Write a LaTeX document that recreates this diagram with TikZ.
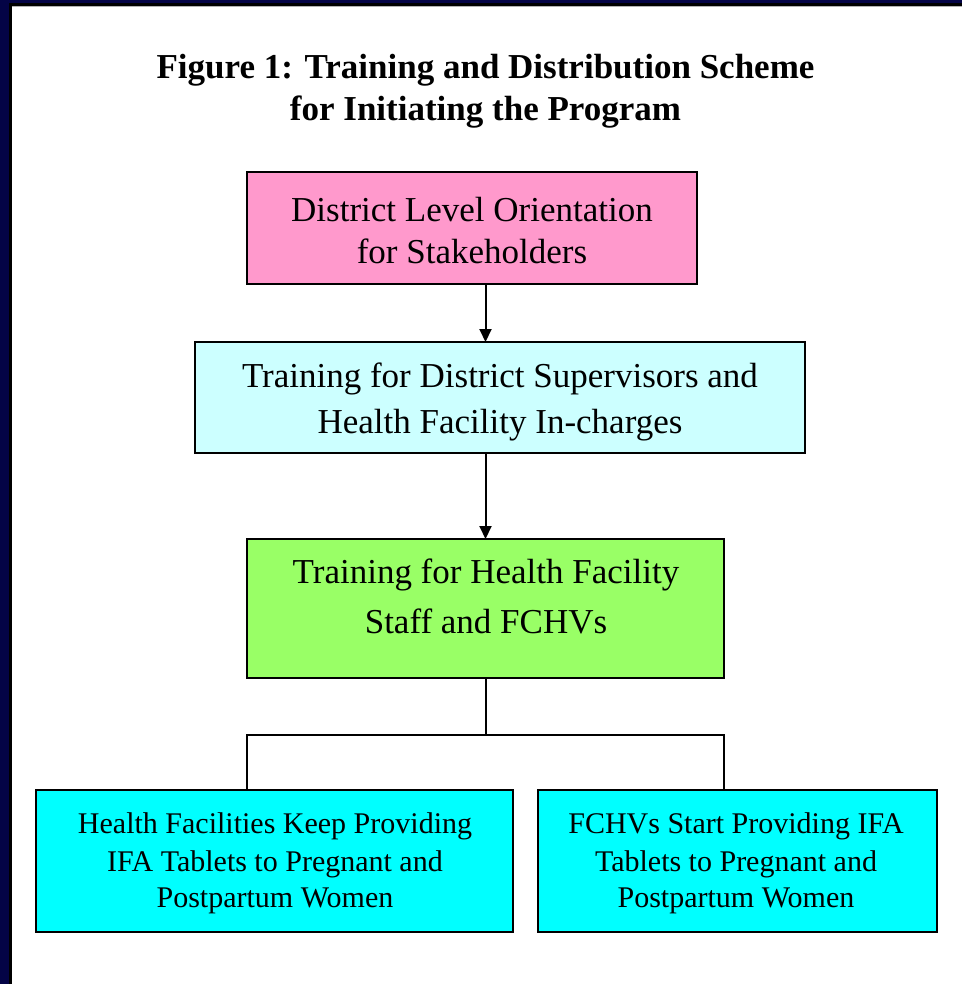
\documentclass[tikz,border=0pt]{standalone}
\usepackage{fontspec}
\setmainfont{Liberation Serif}
\usetikzlibrary{arrows.meta,calc}
\definecolor{pinkbox}{HTML}{FF99CC}
\definecolor{lightcyanbox}{HTML}{CCFFFF}
\definecolor{greenbox}{HTML}{99FF66}
\definecolor{cyanbox}{HTML}{00FFFF}
\definecolor{navyframe}{RGB}{4,4,70}
\begin{document}
\begin{tikzpicture}[x=1pt,y=-1pt,
  box/.style={draw=black, line width=2pt, inner sep=0pt, outer sep=0pt},
  ttl/.style={anchor=base, inner sep=0pt, font=\fontsize{35}{40}\selectfont\bfseries},
  tl/.style={anchor=base, inner sep=0pt, font=\fontsize{35}{40}\selectfont},
  ts/.style={anchor=base, inner sep=0pt, font=\fontsize{30}{36}\selectfont},
  conn/.style={draw=black, line width=2pt},
  arr/.style={conn, -{Triangle[length=13pt,width=12pt]}}]
\useasboundingbox (0,0) rectangle (962,984);
\fill[white] (0,0) rectangle (962,984);
% frame
\fill[navyframe] (0,0) rectangle (9,984);
\fill[navyframe] (0,0) rectangle (962,3);
\fill[black] (9,3) rectangle (12,984);
\fill[black] (9,3) rectangle (962,6);
\fill[gray!60] (12,6) rectangle (962,7.5);
% title
\node[ttl] (title1) at (485.5,79) {Figure 1: Training and Distribution Scheme};
\node[ttl] (title2) at (485.5,121) {for Initiating the Program};
% boxes
\node[box, fill=pinkbox, minimum width=450pt, minimum height=112pt] (b1) at (472,228) {};
\node[box, fill=lightcyanbox, minimum width=610pt, minimum height=111pt] (b2) at (500,397.5) {};
\node[box, fill=greenbox, minimum width=477pt, minimum height=139pt] (b3) at (485.5,608.5) {};
\node[box, fill=cyanbox, minimum width=477pt, minimum height=142pt] (b4) at (274.5,861) {};
\node[box, fill=cyanbox, minimum width=399pt, minimum height=142pt] (b5) at (737.5,861) {};
% texts
\node[tl] (t1a) at (472,222) {District Level Orientation};
\node[tl] (t1b) at (472,263) {for Stakeholders};
\node[tl] (t2a) at (500,387) {Training for District Supervisors and};
\node[tl] (t2b) at (500,433) {Health Facility In-charges};
\node[tl] (t3a) at (486,583) {Training for Health Facility};
\node[tl] (t3b) at (486,633) {Staff and FCHVs};
\node[ts] (t4a) at (275,833) {Health Facilities Keep Providing};
\node[ts] (t4b) at (275,871) {IFA Tablets to Pregnant and};
\node[ts] (t4c) at (275,907) {Postpartum Women};
\node[ts] (t5a) at (736,833) {FCHVs Start Providing IFA};
\node[ts] (t5b) at (736,871) {Tablets to Pregnant and};
\node[ts] (t5c) at (736,907) {Postpartum Women};
% connectors
\draw[arr] (b1.south -| b3.center) -- (b2.north -| b3.center);
\draw[arr] (b2.south -| b3.center) -- (b3.north);
\coordinate (j) at ($(b3.south)+(0,57)$);
\draw[conn] (b3.south) -- (j);
\draw[conn] (b3.west |- b4.north) -- (b3.west |- j) -- (b3.east |- j) -- (b3.east |- b5.north);
\end{tikzpicture}
\end{document}
